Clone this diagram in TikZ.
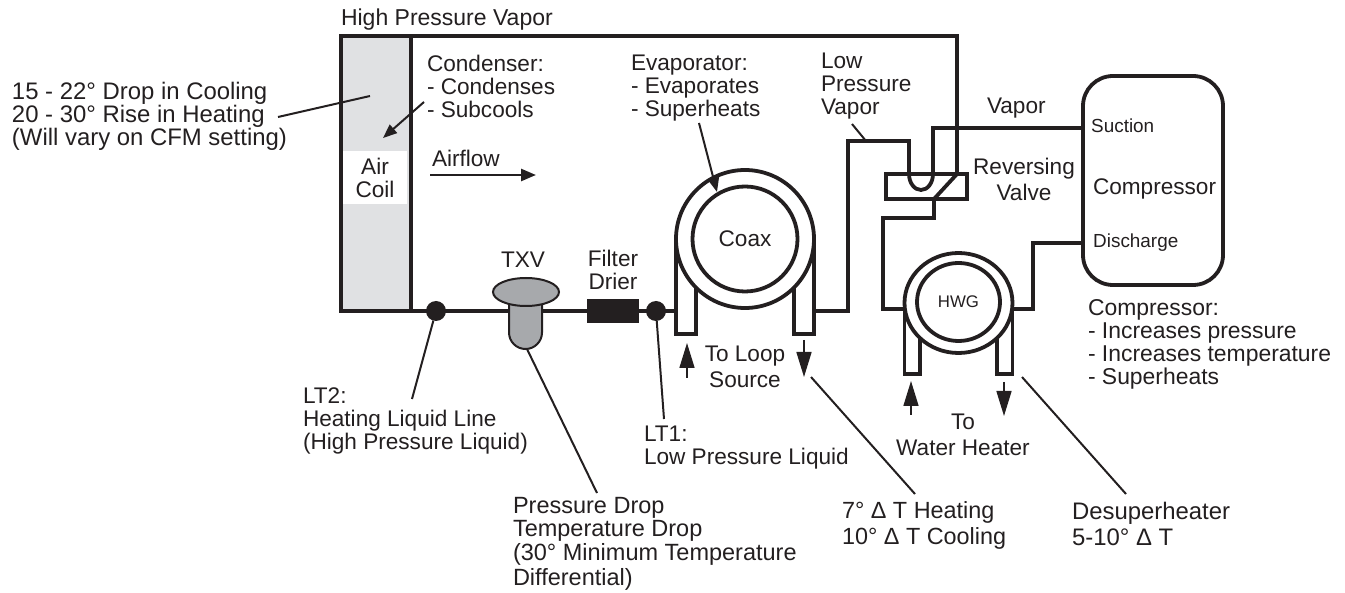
\documentclass[tikz,border=0pt]{standalone}
\usepackage{fontspec}
\setmainfont{Liberation Sans}
\usetikzlibrary{arrows.meta,shapes.geometric}
\definecolor{ink}{HTML}{231F20}
\definecolor{coilgray}{HTML}{E0E1E3}
\definecolor{txvgray}{HTML}{A7A9AC}
\tikzset{
  pipe/.style={draw=ink, line width=3.8pt},
  lead/.style={draw=ink, line width=2pt},
  flow/.style={draw=ink, line width=1.6pt, -{Triangle[length=25pt,width=15pt]}},
  lab/.style={text=ink, inner sep=0pt, outer sep=0pt, align=left, anchor=north west, font=\fontsize{22.6}{23}\selectfont},
  labbig/.style={lab, font=\fontsize{23.9}{23}\selectfont},
  labc/.style={lab, align=center, anchor=north},
  small/.style={text=ink, inner sep=0pt, anchor=base west, font=\fontsize{18.9}{19}\selectfont},
  dot/.style={circle, fill=ink, inner sep=0pt, outer sep=0pt, minimum size=20pt},
  ring/.style={circle, pipe, inner sep=0pt, outer sep=0pt},
}
\begin{document}
\begin{tikzpicture}[x=1pt,y=-1pt]
\useasboundingbox (0,0) rectangle (1345,593);
\node[pipe, fill=coilgray, rectangle, inner sep=0pt, outer sep=0pt, minimum width=70pt, minimum height=275pt] at (376,173.5) (Coil) {};
\node[labc, fill=white, anchor=center, minimum width=64pt, minimum height=53pt] at (375,178) (AirCoil) {Air\\Coil};
\node[ring, minimum size=138pt] at (745,239) (CoaxOuter) {};
\node[ring, minimum size=105pt, text=ink, font=\fontsize{22.6}{23}\selectfont] at (745,239) (Coax) {Coax};
\node[ellipse, pipe, inner sep=0pt, outer sep=0pt, minimum width=108pt, minimum height=100pt] at (958.5,303) (HWGOuter) {};
\node[ellipse, pipe, inner sep=0pt, outer sep=0pt, minimum width=83pt, minimum height=78pt, text=ink, font=\fontsize{16.8}{17}\selectfont] at (958.5,302) (HWG) {HWG};
\node[pipe, rectangle, rounded corners=30pt, inner sep=0pt, outer sep=0pt, minimum width=140pt, minimum height=209pt] at (1153,180.5) (Comp) {};
\node[pipe, rectangle, inner sep=0pt, outer sep=0pt, minimum width=81pt, minimum height=25pt] at (926.5,186.5) (RV) {};
\node[shape=coordinate] at (909,174) (RVa) {};
\node[shape=coordinate] at (933,174) (RVb) {};
\node[shape=coordinate] at (957,174) (RVc) {};
\node[shape=coordinate] at (934,199) (RVd) {};
\node[shape=coordinate] at (883,218) (P1) {};
\node[shape=coordinate] at (848,141) (P2) {};
\node[shape=coordinate] at (1033,243) (P3) {};
\node[shape=coordinate] at (1083,128) (Suction) {};
\node[shape=coordinate] at (1083,243) (Discharge) {};
\node[shape=coordinate] at (676,311) (CoaxIn) {};
\node[shape=coordinate] at (814,311) (CoaxOut) {};
\node[shape=coordinate] at (904.5,309) (HWGIn) {};
\node[shape=coordinate] at (1012.5,309) (HWGOut) {};
\draw[pipe] (Coil.north east) -| (RVc);
\draw[pipe] (Coil.south east) -- (CoaxIn);
\draw[pipe] (CoaxOut) -| (P2) -| (RVa);
\draw[pipe] (RVa) arc[start angle=180, end angle=360, x radius=12pt, y radius=16pt];
\draw[pipe] (RVb) |- (Suction);
\draw[pipe] (RVc) -- (RVd) -- ([yshift=-19pt]RVd) -| (P1) |- (HWGIn);
\draw[pipe] (HWGOut) -| (P3) -- (Discharge);
\draw[pipe] (CoaxOuter.west) -- ([yshift=-95pt]CoaxOuter.west) -- ([xshift=20pt,yshift=-95pt]CoaxOuter.west) -- ([xshift=20pt,yshift=-49pt]CoaxOuter.west);
\draw[pipe] (CoaxOuter.east) -- ([yshift=-95pt]CoaxOuter.east) -- ([xshift=-20pt,yshift=-95pt]CoaxOuter.east) -- ([xshift=-20pt,yshift=-49pt]CoaxOuter.east);
\draw[pipe] (HWGOuter.west) -- ([yshift=-71pt]HWGOuter.west) -- ([xshift=15.5pt,yshift=-71pt]HWGOuter.west) -- ([xshift=15.5pt,yshift=-35pt]HWGOuter.west);
\draw[pipe] (HWGOuter.east) -- ([yshift=-71pt]HWGOuter.east) -- ([xshift=-15.5pt,yshift=-71pt]HWGOuter.east) -- ([xshift=-15.5pt,yshift=-35pt]HWGOuter.east);
\draw[draw=ink, line width=2pt, fill=txvgray] (509,305) -- (509,332.5) arc[start angle=180, end angle=360, radius=16.5pt] -- (542,305);
\node[ellipse, draw=ink, line width=2pt, fill=txvgray, inner sep=0pt, outer sep=0pt, minimum width=66pt, minimum height=28pt] at (526,292) (TXV) {};
\node[rectangle, fill=ink, inner sep=0pt, outer sep=0pt, minimum width=52pt, minimum height=24pt] at (613,311) (Drier) {};
\node[dot] at (436,311) (LT2) {};
\node[dot] at (656,311) (LT1) {};
\node[lab, font=\fontsize{23}{23}\selectfont] at (341,9) (HPV) {High Pressure Vapor};
\node[labbig] at (12,82) (AirDrop) {15 - 22° Drop in Cooling\\20 - 30° Rise in Heating\\(Will vary on CFM setting)};
\node[lab] at (427,55) (Condenser) {Condenser:\\- Condenses\\- Subcools};
\node[lab] at (432,150) (Airflow) {Airflow};
\node[lab] at (631,55) (Evaporator) {Evaporator:\\- Evaporates\\- Superheats};
\node[lab] at (821,53) (LPV) {Low\\Pressure\\Vapor};
\node[lab] at (987,98) (Vapor) {Vapor};
\node[labc] at (1024,158) (RVText) {Reversing\\[3pt]Valve};
\node[small] at (1091,133) (SuctionText) {Suction};
\node[lab, anchor=base west] at (1093,195) (CompText) {Compressor};
\node[small] at (1093,248) (DischargeText) {Discharge};
\node[lab, font=\fontsize{22.9}{23}\selectfont] at (1088,300) (CompList) {Compressor:\\- Increases pressure\\- Increases temperature\\- Superheats};
\node[labc] at (523,252) (TXVText) {TXV};
\node[labc] at (613,250) (DrierText) {Filter\\Drier};
\node[lab] at (303,388) (LT2Text) {LT2:\\Heating Liquid Line\\(High Pressure Liquid)};
\node[lab, font=\fontsize{23.5}{23}\selectfont] at (513,497) (DropText) {Pressure Drop\\Temperature Drop\\[1pt](30° Minimum Temperature\\[2pt]Differential)};
\node[lab] at (644,426) (LT1Text) {LT1:\\Low Pressure Liquid};
\node[labc] at (745,346) (LoopText) {To Loop\\[3pt]Source};
\node[labc] at (963,414) (HeaterText) {To\\[3pt]Water Heater};
\node[lab, font=\fontsize{23.4}{23}\selectfont] at (842,502) (CoaxDT) {7° Δ T Heating\\[3pt]10° Δ T Cooling};
\node[labbig] at (1072,502) (HWGDT) {Desuperheater\\[3pt]5-10° Δ T};
\node[shape=coordinate] at (278,117) (L1) {};
\node[shape=coordinate] at (370,96) (L2) {};
\node[shape=coordinate] at (424,102) (L3) {};
\node[shape=coordinate] at (383,138) (L4) {};
\node[shape=coordinate] at (699,123) (L5) {};
\node[shape=coordinate] at (717,192) (L6) {};
\node[shape=coordinate] at (852,124) (L7) {};
\node[shape=coordinate] at (866,141) (L8) {};
\node[shape=coordinate] at (412,399) (L9) {};
\node[shape=coordinate] at (597,493) (L10) {};
\node[shape=coordinate] at (664,419) (L11) {};
\node[shape=coordinate] at (811,377) (L12) {};
\node[shape=coordinate] at (915,494) (L13) {};
\node[shape=coordinate] at (1022,377) (L14) {};
\node[shape=coordinate] at (1126,494) (L15) {};
\node[shape=coordinate] at (430,175) (F1) {};
\node[shape=coordinate] at (536,175) (F2) {};
\node[shape=coordinate] at (687,378) (F3) {};
\node[shape=coordinate] at (687,343) (F4) {};
\node[shape=coordinate] at (804,340) (F5) {};
\node[shape=coordinate] at (804,377) (F6) {};
\node[shape=coordinate] at (911,415) (F7) {};
\node[shape=coordinate] at (911,381) (F8) {};
\node[shape=coordinate] at (1004,382) (F9) {};
\node[shape=coordinate] at (1004,416) (F10) {};
\draw[lead] (L1) -- (L2);
\draw[lead, -{Triangle[length=14pt,width=11pt]}] (L3) -- (L4);
\draw[lead, -{Triangle[length=14pt,width=11pt]}] (L5) -- (L6);
\draw[lead] (L7) -- (L8);
\draw[lead] (LT2) -- (L9);
\draw[lead] (527,349) -- (L10);
\draw[lead] (LT1) -- (L11);
\draw[lead] (L12) -- (L13);
\draw[lead] (L14) -- (L15);
\draw[draw=ink, line width=2.5pt, -{Triangle[length=15pt,width=12pt]}] (F1) -- (F2);
\draw[flow] (F3) -- (F4);
\draw[flow] (F5) -- (F6);
\draw[flow] (F7) -- (F8);
\draw[flow] (F9) -- (F10);
\end{tikzpicture}
\end{document}
